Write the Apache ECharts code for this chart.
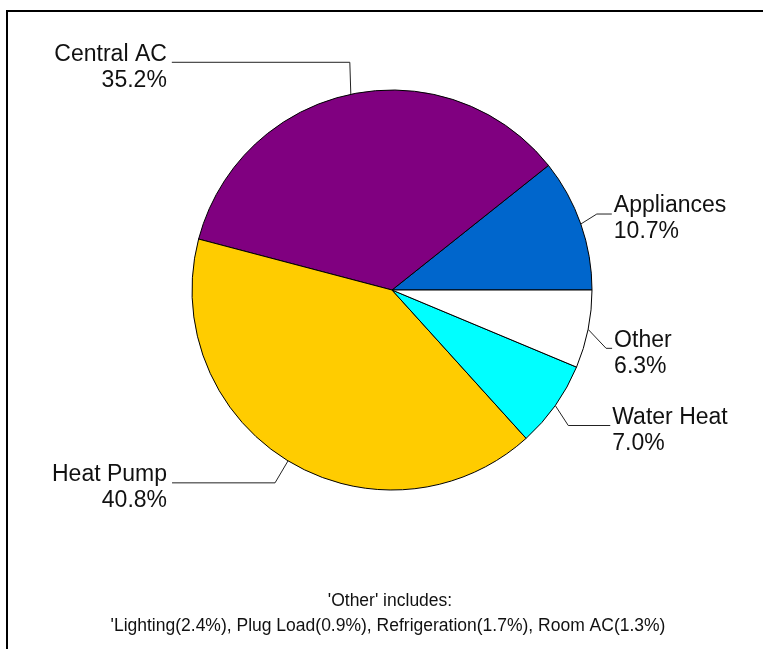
<!DOCTYPE html>
<html>
<head>
<meta charset="utf-8">
<title>End use pie</title>
<script src="https://cdn.jsdelivr.net/npm/echarts@6/dist/echarts.min.js"></script>
<style>
  html, body { margin: 0; padding: 0; background: #fff; }
  #chart { width: 763px; height: 649px; }
</style>
</head>
<body>
<div id="chart"></div>
<script>
// data
const categories = ['Appliances', 'Central AC', 'Heat Pump', 'Water Heat', 'Other']
const shares = [10.7, 35.2, 40.8, 7.0, 6.3]
const sliceColors = ['#0066CC', '#800080', '#FFCC00', '#00FFFF', '#FFFFFF']
const otherNote = ["'Other' includes:", "'Lighting(2.4%), Plug Load(0.9%), Refrigeration(1.7%), Room AC(1.3%)"]

// leader line shape per slice: elbow offset from the slice edge, then horizontal run
const leaders = [
  [16, -10, 15],
  [-1, -32, -178],
  [-13, 22, -103],
  [13, 20, 42],
  [18, 19, 6]
]

const fontFamily = '"Liberation Sans", Arial, sans-serif'
const chart = echarts.init(document.getElementById('chart'))

const pieData = categories.map((name, i) => ({
  name: name,
  value: shares[i],
  itemStyle: { color: sliceColors[i] }
}))

const option = {
  animation: false,
  graphic: [
    // frame (only top and left edges show)
    {
      type: 'rect',
      shape: { x: 7, y: 11, width: 900, height: 800 },
      style: { fill: 'none', stroke: '#000', lineWidth: 2 },
      silent: true
    },
    {
      type: 'text',
      x: 390,
      y: 601,
      style: { text: otherNote[0], align: 'center', verticalAlign: 'middle', font: '17.5px ' + fontFamily, fill: '#111' },
      silent: true
    },
    {
      type: 'text',
      x: 388,
      y: 626,
      style: { text: otherNote[1], align: 'center', verticalAlign: 'middle', font: '17.5px ' + fontFamily, fill: '#111' },
      silent: true
    }
  ],
  series: [
    {
      type: 'pie',
      center: [392, 290],
      radius: 200,
      startAngle: 0,
      clockwise: false,
      silent: true,
      emphasis: { disabled: true },
      itemStyle: { borderColor: '#000', borderWidth: 1 },
      label: {
        show: true,
        position: 'outside',
        alignTo: 'none',
        color: '#111',
        fontFamily: fontFamily,
        fontSize: 23,
        lineHeight: 26,
        formatter: (p) => p.name + '\n' + p.value.toFixed(1) + '%'
      },
      labelLine: {
        show: true,
        length: 15,
        length2: 15,
        smooth: false,
        lineStyle: { color: '#222', width: 1 }
      },
      labelLayout: (p) => {
        const lk = leaders[p.dataIndex]
        const start = p.labelLinePoints[0]
        const elbow = [start[0] + lk[0], start[1] + lk[1]]
        const end = [elbow[0] + lk[2], elbow[1]]
        const left = lk[2] < 0
        return {
          x: end[0] + (left ? -5 : 2),
          y: end[1] + 5,
          align: left ? 'right' : 'left',
          verticalAlign: 'middle',
          labelLinePoints: [start, elbow, end]
        }
      },
      data: pieData
    }
  ]
}

chart.setOption(option)
</script>
</body>
</html>
